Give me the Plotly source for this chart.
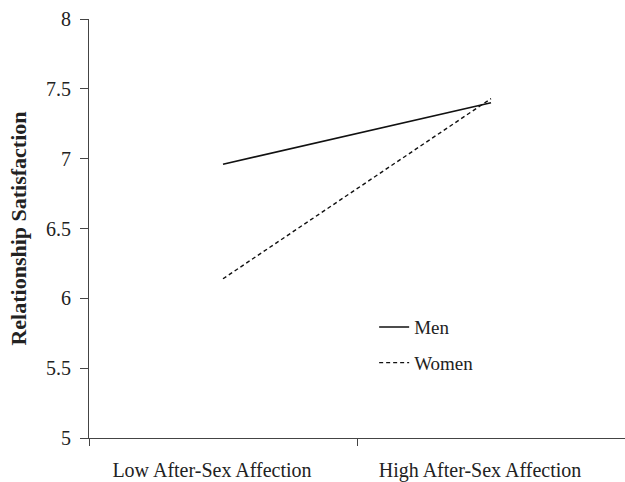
import plotly.graph_objects as go

categories = ["Low After-Sex Affection", "High After-Sex Affection"]
men = [6.96, 7.40]
women = [6.14, 7.43]
y_ticks = [5, 5.5, 6, 6.5, 7, 7.5, 8]
y_tick_labels = ["5", "5.5", "6", "6.5", "7", "7.5", "8"]

fig = go.Figure()
fig.add_trace(go.Scatter(x=categories, y=men, mode="lines", name="Men",
                         legendgroup="m",
                         line=dict(color="#111", width=1.6)))
fig.add_trace(go.Scatter(x=categories, y=women, mode="lines", name="Women",
                         legendgroup="w",
                         line=dict(color="#111", width=1.4, dash="4px,3px")))

serif = "Liberation Serif, Times New Roman, serif"
fig.update_layout(
    width=625, height=482,
    margin=dict(l=89, r=0, t=19, b=44),
    paper_bgcolor="white", plot_bgcolor="white",
    font=dict(family=serif, size=19, color="#222"),
    showlegend=True,
    legend=dict(x=0.532, y=0.31, xanchor="left", yanchor="top",
                bgcolor="rgba(0,0,0,0)", font=dict(size=19, family=serif),
                tracegroupgap=8, traceorder="grouped"),
    xaxis=dict(type="category", range=[-0.5, 1.5], showline=True,
               linecolor="#444", linewidth=1, ticks="outside", ticklen=7,
               tickcolor="#444", tickson="boundaries", showgrid=False,
               zeroline=False, ticklabelstandoff=14, ticklabelshift=-11,
               automargin=False,
               tickfont=dict(size=20, family=serif)),
    yaxis=dict(range=[5, 8], tickvals=y_ticks, ticktext=y_tick_labels,
               showline=True, linecolor="#444", linewidth=1,
               ticks="outside", ticklen=8, tickcolor="#444",
               showgrid=False, zeroline=False, automargin=False,
               ticklabelstandoff=5,
               tickfont=dict(size=20, family=serif),
               title=dict(text="<b>Relationship Satisfaction</b>",
                          font=dict(size=22, family=serif), standoff=13)),
)

fig.write_html("out.html", config={"displayModeBar": False},
               post_script="document.body.style.margin='0';document.body.style.padding='0';")
